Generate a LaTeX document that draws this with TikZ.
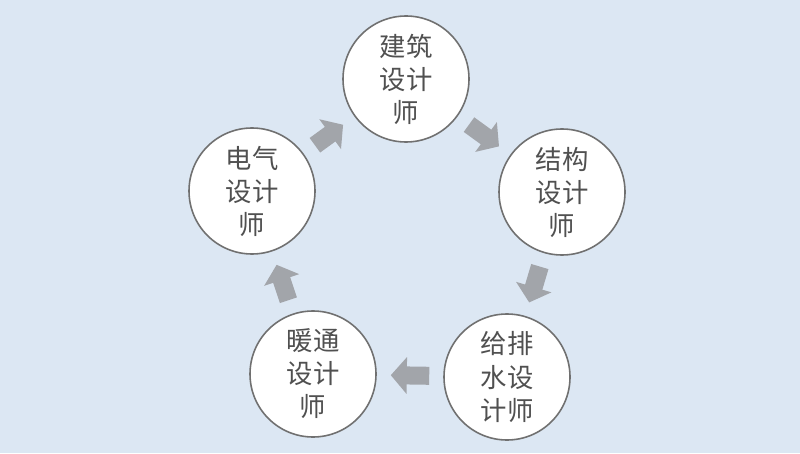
\documentclass[tikz,border=0pt]{standalone}
\usepackage{fontspec}
\newfontfamily\cjk{Noto Sans CJK SC}
\usetikzlibrary{arrows.meta}
\definecolor{bgblue}{HTML}{DCE7F3}
\definecolor{flowgray}{HTML}{A2A5AA}
\definecolor{rimgray}{HTML}{707070}
\definecolor{txtgray}{HTML}{505050}
\tikzset{
  role/.style={circle, draw=rimgray, line width=0.9pt, fill=white, minimum size=2.52cm,
    inner sep=0pt, align=center, text=txtgray, font=\cjk\fontsize{15}{18.8}\selectfont},
  flow/.style={flowgray, line width=0.36cm, shorten <=0.28cm, shorten >=0.28cm,
    -{Triangle[width=0.72cm, length=0.32cm]}}
}
\begin{document}
\begin{tikzpicture}
\fill[bgblue] (0,0) rectangle (16,9.06);
\node[role] (jz) at (8.12,7.48) {建筑\\设计\\师};
\node[role] (jg) at (11.24,5.22) {结构\\设计\\师};
\node[role] (gps) at (10.14,1.52) {给排\\水设\\计师};
\node[role] (nt) at (6.26,1.58) {暖通\\设计\\师};
\node[role] (dq) at (5.04,5.24) {电气\\设计\\师};
\draw[flow] (jz) -- (jg);
\draw[flow] (jg) -- (gps);
\draw[flow] (gps) -- (nt);
\draw[flow] (nt) -- (dq);
\draw[flow] (dq) -- (jz);
\end{tikzpicture}
\end{document}
